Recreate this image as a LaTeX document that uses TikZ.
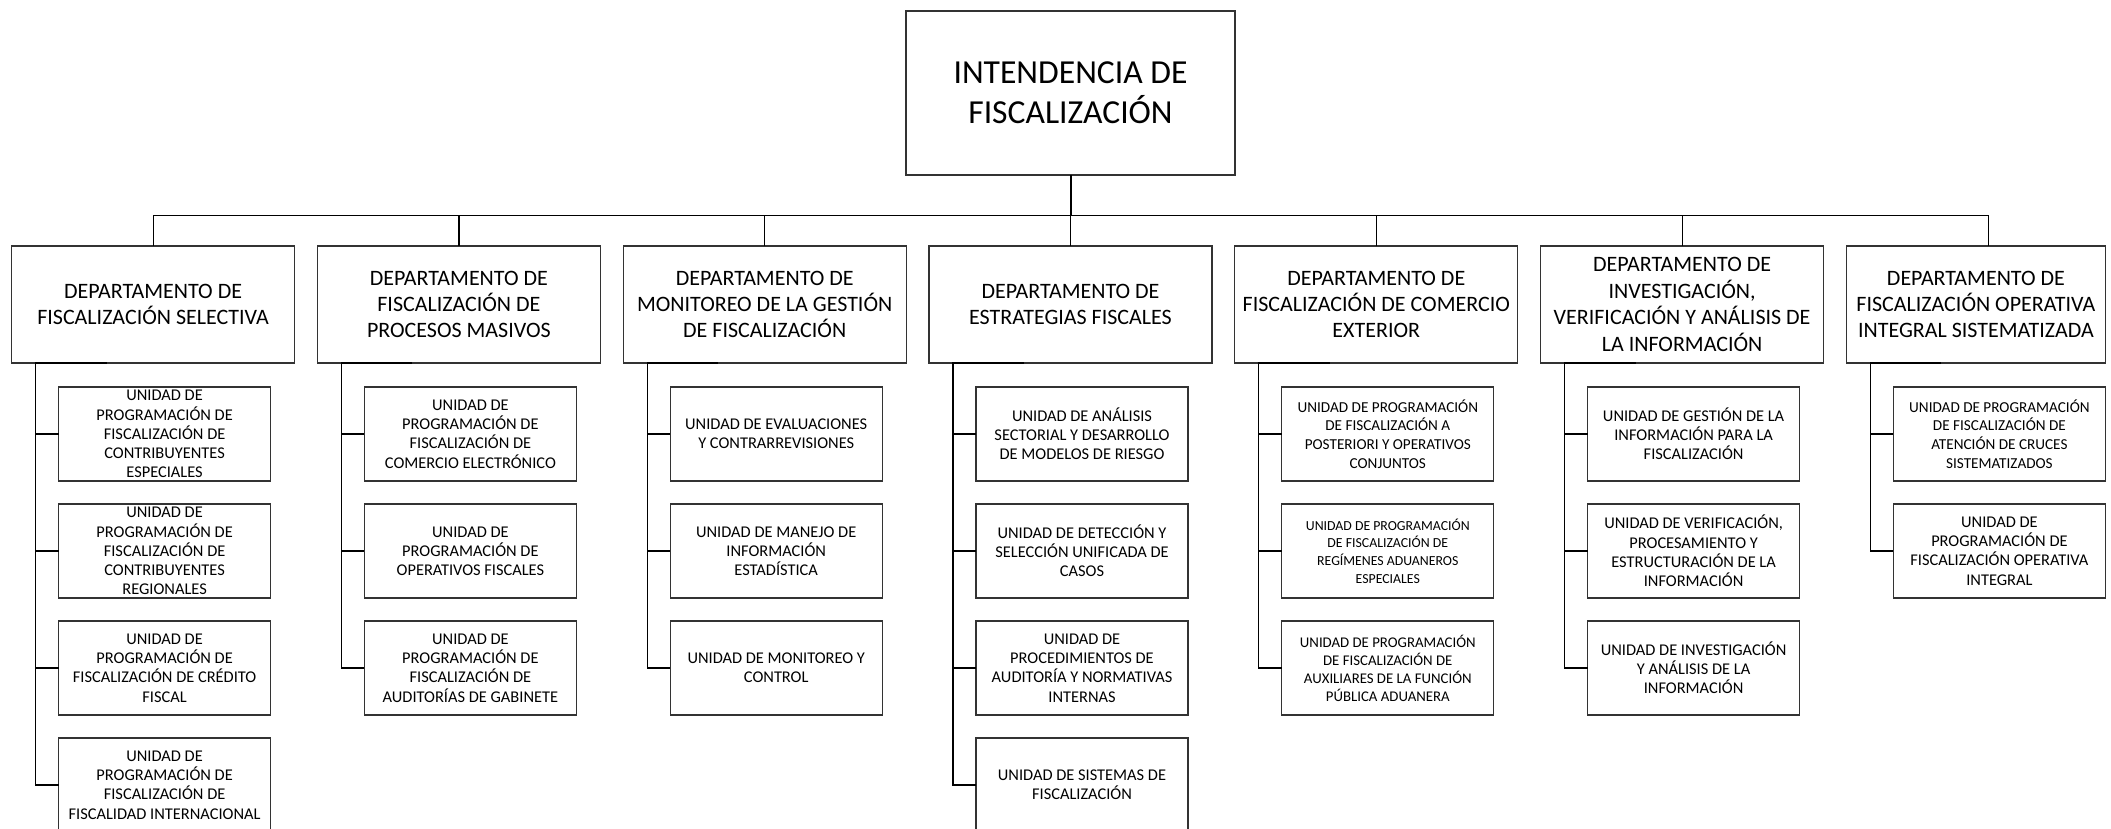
\documentclass[tikz,border=0pt]{standalone}
\usepackage{fontspec}
\setmainfont{Carlito}
\usetikzlibrary{positioning,calc}

\begin{document}
\begin{tikzpicture}[
  node distance=11.5pt and 11.4pt,
  box/.style={draw=black!80, line width=0.6pt, align=center, inner sep=1pt, outer sep=0pt},
  head/.style={box, minimum width=164.5pt, minimum height=82pt, font=\fontsize{16.8}{20}\selectfont},
  dept/.style={box, minimum width=141.5pt, minimum height=58.5pt, font=\fontsize{11}{13.2}\selectfont},
  unit/.style={box, inner ysep=0pt, minimum width=106pt, minimum height=47pt, font=\fontsize{8.2}{9.6}\selectfont},
  unitsm/.style={unit, font=\fontsize{7.6}{9.3}\selectfont},
  unitxs/.style={unit, font=\fontsize{6.9}{8.8}\selectfont},
  link/.style={line width=0.6pt},
]

\useasboundingbox (0,0) rectangle (1055.5pt,-414.5pt);

% Intendencia
\node[head] (intend) at (535.25pt,-46.5pt) {INTENDENCIA DE\\FISCALIZACIÓN};

% Departamentos
\node[dept, below=35.5pt of intend] (d4) {DEPARTAMENTO DE\\ESTRATEGIAS FISCALES};
\node[dept, left=of d4] (d3) {DEPARTAMENTO DE\\MONITOREO DE LA GESTIÓN\\DE FISCALIZACIÓN};
\node[dept, left=of d3] (d2) {DEPARTAMENTO DE\\FISCALIZACIÓN DE\\PROCESOS MASIVOS};
\node[dept, left=of d2] (d1) {DEPARTAMENTO DE\\FISCALIZACIÓN SELECTIVA};
\node[dept, right=of d4] (d5) {DEPARTAMENTO DE\\FISCALIZACIÓN DE COMERCIO\\EXTERIOR};
\node[dept, right=of d5] (d6) {DEPARTAMENTO DE\\INVESTIGACIÓN,\\VERIFICACIÓN Y ANÁLISIS DE\\LA INFORMACIÓN};
\node[dept, right=of d6, minimum width=129.5pt, inner xsep=0pt] (d7) {DEPARTAMENTO DE\\FISCALIZACIÓN OPERATIVA\\INTEGRAL SISTEMATIZADA};

% Bus
\draw[line width=1pt] (intend.south) -- ++(0,-20.25pt) coordinate (bus);
\foreach \d in {d1,d2,d3,d4,d5,d6}
  \draw[link] (\d.north) |- (bus);
\draw[link] ($(d7.north west)+(71.1pt,0)$) |- (bus);

% Unidades - selectiva
\node[unit, below=12pt of d1.south west, anchor=north west, xshift=23.5pt] (u11) {UNIDAD DE\\PROGRAMACIÓN DE\\FISCALIZACIÓN DE\\CONTRIBUYENTES\\ESPECIALES};
\node[unit, below=of u11] (u12) {UNIDAD DE\\PROGRAMACIÓN DE\\FISCALIZACIÓN DE\\CONTRIBUYENTES\\REGIONALES};
\node[unit, below=of u12] (u13) {UNIDAD DE\\PROGRAMACIÓN DE\\FISCALIZACIÓN DE CRÉDITO\\FISCAL};
\node[unit, below=of u13] (u14) {UNIDAD DE\\PROGRAMACIÓN DE\\FISCALIZACIÓN DE\\FISCALIDAD INTERNACIONAL};

% Unidades - procesos masivos
\node[unit, below=12pt of d2.south west, anchor=north west, xshift=23.5pt] (u21) {UNIDAD DE\\PROGRAMACIÓN DE\\FISCALIZACIÓN DE\\COMERCIO ELECTRÓNICO};
\node[unit, below=of u21] (u22) {UNIDAD DE\\PROGRAMACIÓN DE\\OPERATIVOS FISCALES};
\node[unit, below=of u22] (u23) {UNIDAD DE\\PROGRAMACIÓN DE\\FISCALIZACIÓN DE\\AUDITORÍAS DE GABINETE};

% Unidades - monitoreo
\node[unit, below=12pt of d3.south west, anchor=north west, xshift=23.5pt] (u31) {UNIDAD DE EVALUACIONES\\Y CONTRARREVISIONES};
\node[unit, below=of u31] (u32) {UNIDAD DE MANEJO DE\\INFORMACIÓN\\ESTADÍSTICA};
\node[unit, below=of u32] (u33) {UNIDAD DE MONITOREO Y\\CONTROL};

% Unidades - estrategias
\node[unit, below=12pt of d4.south west, anchor=north west, xshift=23.5pt] (u41) {UNIDAD DE ANÁLISIS\\SECTORIAL Y DESARROLLO\\DE MODELOS DE RIESGO};
\node[unit, below=of u41] (u42) {UNIDAD DE DETECCIÓN Y\\SELECCIÓN UNIFICADA DE\\CASOS};
\node[unit, below=of u42] (u43) {UNIDAD DE\\PROCEDIMIENTOS DE\\AUDITORÍA Y NORMATIVAS\\INTERNAS};
\node[unit, below=of u43] (u44) {UNIDAD DE SISTEMAS DE\\FISCALIZACIÓN};

% Unidades - comercio exterior
\node[unitsm, below=12pt of d5.south west, anchor=north west, xshift=23.5pt] (u51) {UNIDAD DE PROGRAMACIÓN\\DE FISCALIZACIÓN A\\POSTERIORI Y OPERATIVOS\\CONJUNTOS};
\node[unitxs, below=of u51] (u52) {UNIDAD DE PROGRAMACIÓN\\DE FISCALIZACIÓN DE\\REGÍMENES ADUANEROS\\ESPECIALES};
\node[unitsm, below=of u52, font=\fontsize{7.4}{9}\selectfont] (u53) {UNIDAD DE PROGRAMACIÓN\\DE FISCALIZACIÓN DE\\AUXILIARES DE LA FUNCIÓN\\PÚBLICA ADUANERA};

% Unidades - investigacion
\node[unit, below=12pt of d6.south west, anchor=north west, xshift=23.5pt] (u61) {UNIDAD DE GESTIÓN DE LA\\INFORMACIÓN PARA LA\\FISCALIZACIÓN};
\node[unit, below=of u61] (u62) {UNIDAD DE VERIFICACIÓN,\\PROCESAMIENTO Y\\ESTRUCTURACIÓN DE LA\\INFORMACIÓN};
\node[unit, below=of u62] (u63) {UNIDAD DE INVESTIGACIÓN\\Y ANÁLISIS DE LA\\INFORMACIÓN};

% Unidades - operativa integral
\node[unitsm, below=12pt of d7.south west, anchor=north west, xshift=23.5pt] (u71) {UNIDAD DE PROGRAMACIÓN\\DE FISCALIZACIÓN DE\\ATENCIÓN DE CRUCES\\SISTEMATIZADOS};
\node[unit, below=of u71] (u72) {UNIDAD DE\\PROGRAMACIÓN DE\\FISCALIZACIÓN OPERATIVA\\INTEGRAL};

% Lineas de cada departamento
\coordinate (s1) at ($(d1.south west)+(12pt,0)$);
\draw[link] ($(d1.south west)+(47.5pt,0)$) -- (s1) |- (u14.west);
\foreach \u in {u11,u12,u13} \draw[link] (s1) |- (\u.west);

\coordinate (s2) at ($(d2.south west)+(12pt,0)$);
\draw[link] ($(d2.south west)+(47.5pt,0)$) -- (s2) |- (u23.west);
\foreach \u in {u21,u22} \draw[link] (s2) |- (\u.west);

\coordinate (s3) at ($(d3.south west)+(12pt,0)$);
\draw[link] ($(d3.south west)+(47.5pt,0)$) -- (s3) |- (u33.west);
\foreach \u in {u31,u32} \draw[link] (s3) |- (\u.west);

\coordinate (s4) at ($(d4.south west)+(12pt,0)$);
\draw[link] ($(d4.south west)+(47.5pt,0)$) -- (s4) |- (u44.west);
\foreach \u in {u41,u42,u43} \draw[link] (s4) |- (\u.west);

\coordinate (s5) at ($(d5.south west)+(12pt,0)$);
\draw[link] ($(d5.south west)+(47.5pt,0)$) -- (s5) |- (u53.west);
\foreach \u in {u51,u52} \draw[link] (s5) |- (\u.west);

\coordinate (s6) at ($(d6.south west)+(12pt,0)$);
\draw[link] ($(d6.south west)+(47.5pt,0)$) -- (s6) |- (u63.west);
\foreach \u in {u61,u62} \draw[link] (s6) |- (\u.west);

\coordinate (s7) at ($(d7.south west)+(12pt,0)$);
\draw[link] ($(d7.south west)+(47.5pt,0)$) -- (s7) |- (u72.west);
\draw[link] (s7) |- (u71.west);

\end{tikzpicture}
\end{document}
